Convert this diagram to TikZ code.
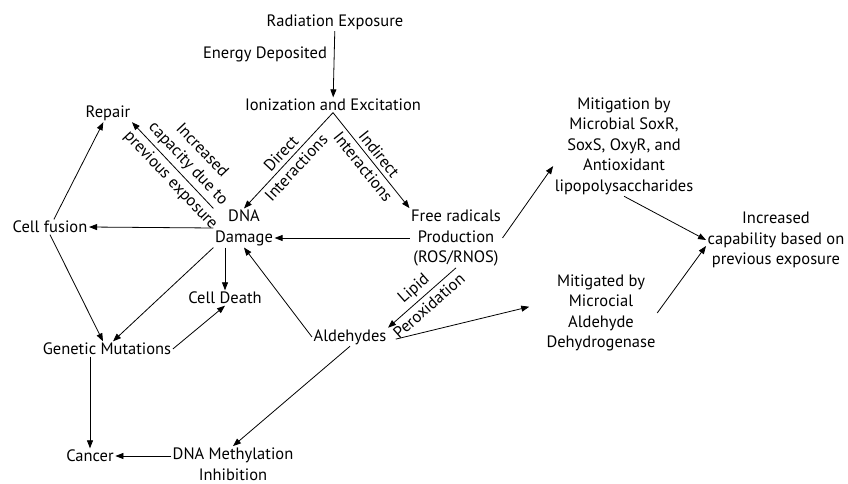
\documentclass[tikz,border=0pt]{standalone}
\usepackage{fontspec}
\setmainfont{PT Sans}
\usetikzlibrary{
  arrows.meta,
  positioning,
  calc
}

\begin{document}
\begin{tikzpicture}[
  x=1pt, y=-1pt,
  txt/.style={
    inner sep=1.5pt, align=center,
    font=\fontsize{16.5}{20.5}\selectfont
  },
  lbl/.style={
    sloped, inner sep=4pt, align=center,
    font=\fontsize{16.5}{19}\selectfont
  },
  conn/.style={
    -{Triangle[length=8pt,width=6pt]}, line width=0.8pt
  }
]
  \useasboundingbox (0,0) rectangle (848,484);

  % Exposure (top)
  \node[txt] (rad) at (335,22) {Radiation Exposure};
  \node[txt] (edep) at (265,54) {Energy Deposited};
  \node[txt] (ion) at (333,105) {Ionization and Excitation};

  % Damage and outcomes (left)
  \node[txt] (dna) at (244,228) {DNA\\Damage};
  \node[txt] (repair) at (108,113) {Repair};
  \node[txt] (fusion) at (50,227) {Cell fusion};
  \node[txt] (death) at (225,298) {Cell Death};
  \node[txt] (gen) at (107,349) {Genetic Mutations};
  \node[txt] (cancer) at (90,456) {Cancer};
  \node[txt] (meth) at (233,464) {DNA Methylation\\Inhibition};

  % Radicals (middle)
  \node[txt] (frp) at (456,238) {Free radicals\\Production\\(ROS/RNOS)};
  \node[txt] (ald) at (350,337) {Aldehydes};

  % Mitigation (right)
  \node[txt] (mitig) at (624,146)
    {Mitigation by\\Microbial SoxR,\\SoxS, OxyR, and\\Antioxidant\\lipopolysaccharides};
  \node[txt] (mitd) at (601,313)
    {Mitigated by\\Microcial\\Aldehyde\\Dehydrogenase};
  \node[txt] (incr) at (776,240)
    {Increased\\capability based on\\previous exposure};

  % Connections
  \draw[conn] (rad) -- (ion);
  \draw[conn] (ion.south) -- node[lbl, above] {Direct}
    node[lbl, below] {Interactions} (dna.north);
  \draw[conn] (ion.south) -- node[lbl, above] {Indirect}
    node[lbl, below] {Interactions} (frp.north west);
  \draw[conn] (dna.north west) --
    node[lbl, above, pos=0.42] {Increased\\capacity due to}
    node[lbl, below, pos=0.42] {previous exposure} (repair.south east);
  \draw[conn] (dna.west) -- (fusion.east);
  \draw[conn] (fusion) -- (repair);
  \draw[conn] (death.north |- dna.south) -- (death.north);
  \draw[conn] (dna.south west) -- ([xshift=6pt]gen.north);
  \draw[conn] (fusion.south) -- ([xshift=-4pt]gen.north);
  \draw[conn] (gen.east) -- (death.south);
  \draw[conn] (cancer.north |- gen.south) -- (cancer.north);
  \draw[conn] (cancer.east -| meth.west) -- (cancer.east);
  \draw[conn] (ald.south) -- (meth.north);
  \draw[conn] (ald.west) -- (dna.south);
  \draw[conn] (frp.west) -- (frp.west -| dna.east);
  \draw[conn] (frp.south) -- node[lbl, above] {Lipid}
    node[lbl, below] {Peroxidation} (ald.north east);
  \draw[conn] (frp.east) -- ($(mitig.west)!0.4!(mitig.south west)$);
  \draw[conn, shorten <=8pt, shorten >=16pt]
    ([yshift=-4pt]ald.east) -- ([yshift=10pt]mitd.west);
  \draw[conn] (mitig.south) -- (incr.west);
  \draw[conn] (mitd.east) -- ([yshift=-6pt]incr.west);
\end{tikzpicture}
\end{document}
